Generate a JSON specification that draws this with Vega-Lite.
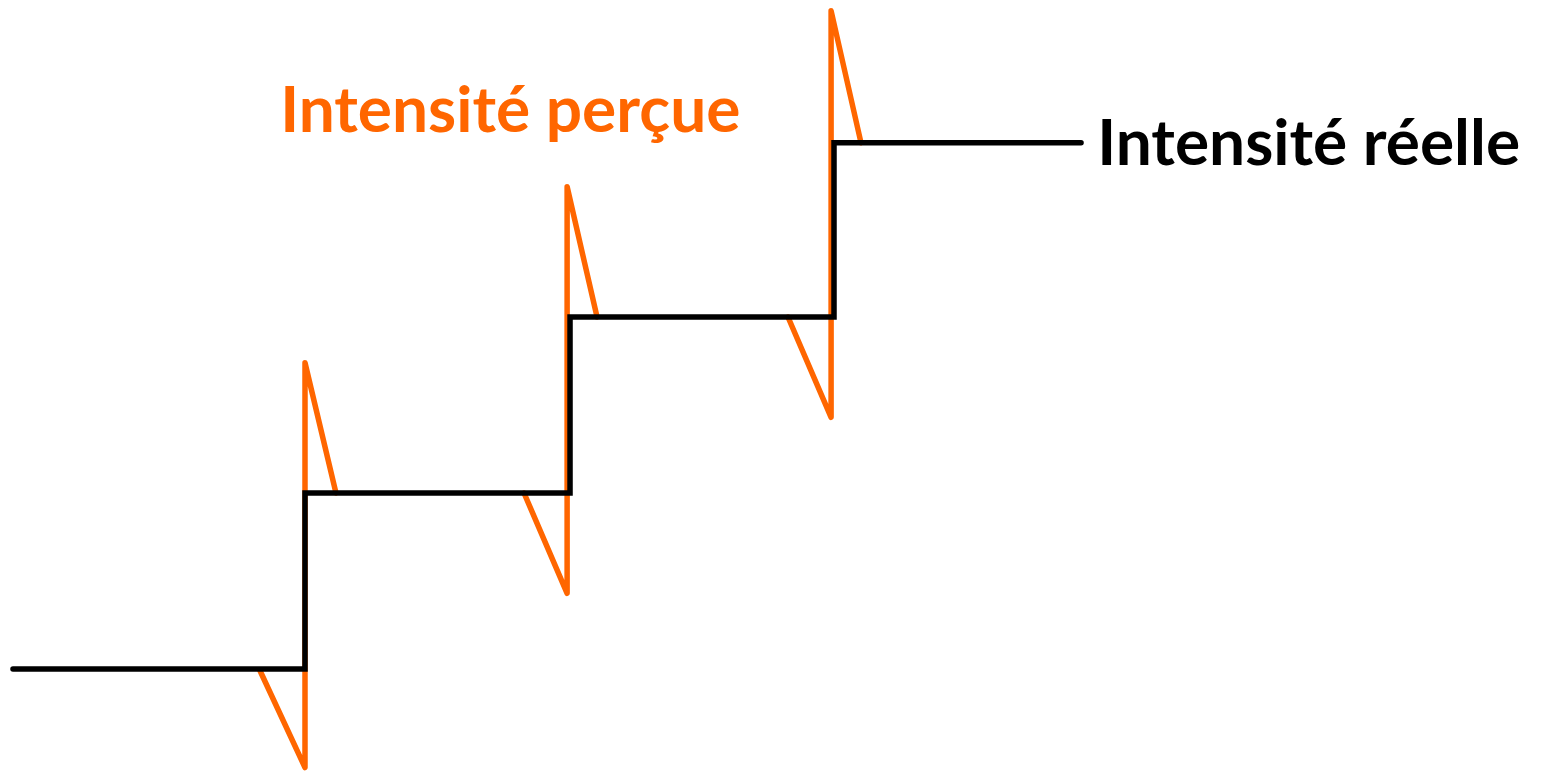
{
  "$schema": "https://vega.github.io/schema/vega-lite/v6.json",
  "width": 1542,
  "height": 773,
  "autosize": {"type": "fit", "contains": "padding"},
  "padding": 0,
  "background": "white",
  "config": {"view": {"stroke": null}},
  "datasets": {
    "reelle": [
      {"i": 0, "t": -0.104, "v": 0},
      {"i": 1, "t": 1.0, "v": 0},
      {"i": 2, "t": 1.0, "v": 1},
      {"i": 3, "t": 2.002, "v": 1},
      {"i": 4, "t": 2.002, "v": 2},
      {"i": 5, "t": 3.0, "v": 2},
      {"i": 6, "t": 3.0, "v": 2.99},
      {"i": 7, "t": 3.934, "v": 2.99}
    ],
    "percue": [
      {"s": 1, "i": 0, "t": 0.83, "v": -0.01},
      {"s": 1, "i": 1, "t": 1.0, "v": -0.56},
      {"s": 1, "i": 2, "t": 1.0, "v": 1.74},
      {"s": 1, "i": 3, "t": 1.117, "v": 1.0},
      {"s": 2, "i": 0, "t": 1.828, "v": 1.0},
      {"s": 2, "i": 1, "t": 1.991, "v": 0.43},
      {"s": 2, "i": 2, "t": 1.991, "v": 2.74},
      {"s": 2, "i": 3, "t": 2.104, "v": 2.0},
      {"s": 3, "i": 0, "t": 2.826, "v": 2.0},
      {"s": 3, "i": 1, "t": 2.989, "v": 1.43},
      {"s": 3, "i": 2, "t": 2.989, "v": 3.74},
      {"s": 3, "i": 3, "t": 3.102, "v": 2.99}
    ],
    "labels": [
      {"t": 0.906, "v": 3.051, "label": "Intensité perçue", "kind": "percue"},
      {"t": 3.995, "v": 2.864, "label": "Intensité réelle", "kind": "reelle"}
    ]
  },
  "layer": [
    {
      "data": {"name": "percue"},
      "mark": {"type": "line", "color": "#FF6600", "strokeWidth": 5.5, "strokeCap": "round", "strokeJoin": "round"},
      "encoding": {
        "x": {"field": "t", "type": "quantitative", "scale": {"domain": [-0.1531, 5.6767], "nice": false, "zero": false}, "axis": null},
        "y": {"field": "v", "type": "quantitative", "scale": {"domain": [-0.591, 3.801], "nice": false, "zero": false}, "axis": null},
        "detail": {"field": "s"},
        "order": {"field": "i"}
      }
    },
    {
      "data": {"name": "reelle"},
      "mark": {"type": "line", "color": "#000000", "strokeWidth": 5.5, "strokeCap": "round", "strokeJoin": "miter"},
      "encoding": {
        "x": {"field": "t", "type": "quantitative"},
        "y": {"field": "v", "type": "quantitative"},
        "order": {"field": "i"}
      }
    },
    {
      "data": {"name": "labels"},
      "mark": {"type": "text", "font": "Lato", "fontWeight": "bold", "fontSize": 64, "align": "left", "baseline": "alphabetic"},
      "encoding": {
        "x": {"field": "t", "type": "quantitative"},
        "y": {"field": "v", "type": "quantitative"},
        "text": {"field": "label"},
        "color": {"field": "kind", "type": "nominal", "scale": {"domain": ["percue", "reelle"], "range": ["#FF6600", "#000000"]}, "legend": null}
      }
    }
  ]
}
